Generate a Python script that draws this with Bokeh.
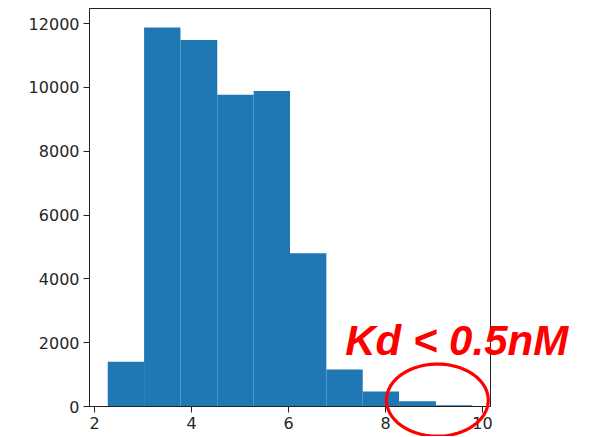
import numpy as np
from bokeh.plotting import figure
from bokeh.models import Range1d, Label, PolyAnnotation, FixedTicker, LinearAxis, BoxAnnotation
from bokeh.embed import file_html
from bokeh.resources import INLINE

# Histogram data
bin_edges = [2.27, 3.02, 3.77, 4.53, 5.28, 6.03, 6.78, 7.53, 8.28, 9.04, 9.79]
counts = [1400, 11880, 11490, 9770, 9890, 4800, 1160, 470, 165, 40]
x_ticks = [2, 4, 6, 8, 10]
y_ticks = [0, 2000, 4000, 6000, 8000, 10000, 12000]
annotation_text = "Kd < 0.5nM"

# matplotlib-like data limits
span = bin_edges[-1] - bin_edges[0]
x0 = bin_edges[0] - 0.05 * span
x1 = bin_edges[-1] + 0.05 * span
ytop = max(counts) * 1.05

# canvas layout (pixels): axes box inside a full-canvas frame
W, H = 590, 436
ax_l, ax_r, ax_t, ax_b = 89, 490, 8, 406
sx = (ax_r - ax_l) / (x1 - x0)
sy = (ax_b - ax_t) / ytop
xr = Range1d(x0 - ax_l / sx, x1 + (W - ax_r) / sx)
yr = Range1d(0 - (H - ax_b) / sy, ytop + ax_t / sy)

p = figure(output_backend="svg", toolbar_location=None, width=W, height=H,
           min_border_left=0, min_border_top=0, min_border_right=0, min_border_bottom=0,
           x_range=xr, y_range=yr, x_axis_location=None, y_axis_location=None)
p.outline_line_color = None
p.xgrid.visible = False
p.ygrid.visible = False

p.quad(left=bin_edges[:-1], right=bin_edges[1:], bottom=0, top=counts,
       fill_color="#1f77b4", line_color=None)

xaxis = LinearAxis(fixed_location=0, bounds=(x0, x1), ticker=FixedTicker(ticks=x_ticks))
yaxis = LinearAxis(fixed_location=x0, bounds=(0, ytop), ticker=FixedTicker(ticks=y_ticks))
for ax in (xaxis, yaxis):
    ax.minor_tick_line_color = None
    ax.major_tick_in = 0
    ax.major_tick_out = 6
    ax.axis_line_color = "#222222"
    ax.major_tick_line_color = "#222222"
    ax.major_label_text_font = "DejaVu Sans"
    ax.major_label_text_font_size = "16px"
    ax.major_label_text_color = "#262626"
    ax.major_label_standoff = 4
p.add_layout(xaxis, "below")
p.add_layout(yaxis, "left")

# axes box (spines)
box = BoxAnnotation(left=x0, right=x1, bottom=0, top=ytop, fill_alpha=0,
                    line_color="#222222", line_width=1, line_alpha=1)
p.add_layout(box)

# Annotation text
lbl = Label(x=7.17, y=2080, text=annotation_text, text_color="#ff0000",
            text_font="Liberation Sans", text_font_style="bold italic",
            text_font_size="42px", text_baseline="alphabetic")
p.add_layout(lbl)

# Red ellipse around the last bins
cx, cy = bin_edges[9] + 0.03, 200
rx, ry = 1.05, 1130
t = np.linspace(0, 2 * np.pi, 120)
ell = PolyAnnotation(xs=list(cx + rx * np.cos(t)), ys=list(cy + ry * np.sin(t)),
                     fill_alpha=0, line_color="#ff0000", line_width=3.2, line_alpha=1)
p.add_layout(ell)

open("out.html", "w").write(file_html(p, INLINE))
